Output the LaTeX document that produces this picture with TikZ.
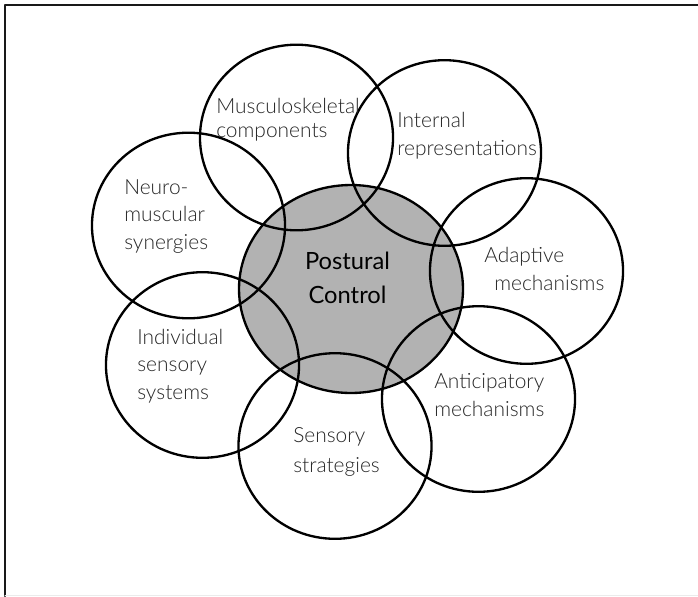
\documentclass[tikz,border=0pt]{standalone}
\usepackage{fontspec}
\setmainfont{Lato}
\newfontfamily\lightfont{Lato Light}
\tikzset{
  ring/.style={line width=1.75pt},
  lbl/.style={anchor=base west,align=left,inner sep=0pt,text=black!85,
    font=\lightfont\fontsize{15.7}{20.3}\selectfont},
  mainlbl/.style={anchor=base,align=center,inner sep=0pt,
    font=\fontsize{17.8}{24.8}\selectfont}
}
\begin{document}
\begin{tikzpicture}[x=0.75pt,y=-0.75pt,line join=round,line cap=round]
  \useasboundingbox (0,0) rectangle (698,596);
  % frame
  \draw[line width=1.6pt,black!90] (5,596) -- (5,5) -- (698,5);
  \draw[line width=0.75pt,black!8] (5,595.5) -- (698,595.5);

  % centres
  \coordinate (P) at (351,289);
  \coordinate (M) at (296.5,137.5);
  \coordinate (I) at (444.5,153);
  \coordinate (N) at (188.5,225.5);
  \coordinate (A) at (526.5,271);
  \coordinate (S) at (202.5,365);
  \coordinate (St) at (335,446);
  \coordinate (An) at (478.5,399);
  \def\rx{72.4pt}
  \def\ry{69.6pt}

  % central circle
  \fill[black!30] (P) ellipse [x radius=84pt, y radius=78pt];
  \draw[ring] (P) ellipse [x radius=84pt, y radius=78pt];

  % outer circles
  \foreach \c in {M,I,N,A,S,St,An}
    \draw[ring] (\c) ellipse [x radius=\rx, y radius=\ry];

  % labels (anchored on the baseline of the last line)
  \node[mainlbl] (postural) at (347.5,303) {Postural\\Control};
  \node[lbl] (musc) at (216,137) {Musculoskeletal\\[-2.3pt]components};
  \node[lbl] (internal) at (397,155) {Internal\\representations};
  \node[lbl] (neuro) at (124,249) {Neuro-\\muscular\\synergies};
  \node[lbl] (adaptive) at (484,290) {Adaptive\\\hspace*{7.5pt}mechanisms};
  \node[lbl] (indiv) at (137,399) {Individual\\sensory\\systems};
  \node[lbl] (antic) at (434,416) {Anticipatory\\mechanisms};
  \node[lbl] (sensstr) at (293,472) {Sensory\\[2pt]strategies};
\end{tikzpicture}
\end{document}
